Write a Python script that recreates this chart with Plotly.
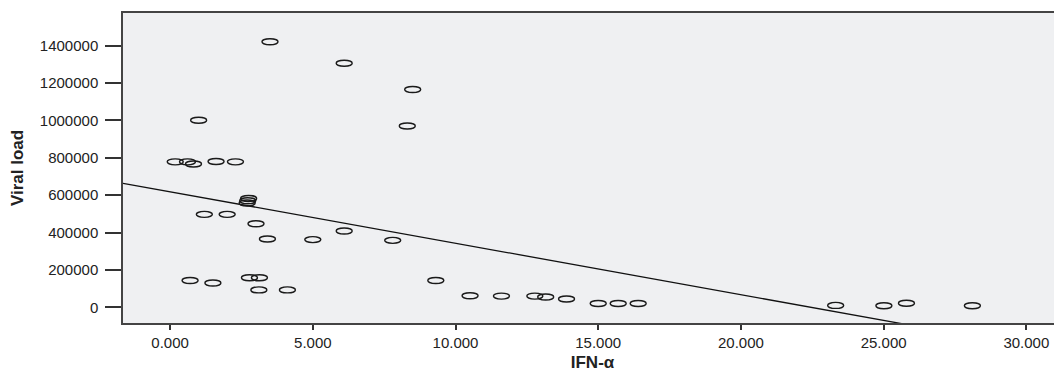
import numpy as np
import plotly.graph_objects as go

ifn_alpha = [3.50, 6.10, 8.50, 8.31, 1.00, 0.18, 0.61, 0.82, 1.61, 2.29,
             2.75, 2.72, 2.70, 1.20, 2.00, 3.01, 3.41, 5.00, 6.10, 7.80,
             0.70, 1.50, 2.78, 3.13, 3.11, 4.11, 9.31, 10.51, 11.61, 12.78,
             13.16, 13.89, 15.00, 15.70, 16.40, 23.32, 25.01, 25.80, 28.11]
viral_load = [1420000, 1305000, 1165000, 970000, 1000000, 778000, 778000, 766000, 780000, 778000,
              582000, 570000, 558000, 497000, 497000, 447000, 365000, 362000, 408000, 358000,
              143000, 130000, 158000, 158000, 93000, 93000, 143000, 62000, 60000, 60000,
              55000, 44000, 20000, 20000, 20000, 10000, 8000, 22000, 8000]

x_ticks = [0, 5, 10, 15, 20, 25, 30]
y_ticks = [0, 200000, 400000, 600000, 800000, 1000000, 1200000, 1400000]
x_range = [-1.65, 31.25]
y_range = [-84000, 1574000]

slope, intercept = np.polyfit(ifn_alpha, viral_load, 1)
fit_x = np.array(x_range)
fit_y = intercept + slope * fit_x

fig = go.Figure()
fig.add_trace(go.Scatter(x=fit_x, y=fit_y, mode="lines",
                         line=dict(color="#111111", width=1.3),
                         showlegend=False, hoverinfo="skip"))
fig.add_trace(go.Scatter(x=ifn_alpha, y=viral_load, mode="markers",
                         marker=dict(size=1, opacity=0), showlegend=False))

for xv, yv in zip(ifn_alpha, viral_load):
    fig.add_shape(type="circle", xref="x", yref="y",
                  xsizemode="pixel", ysizemode="pixel",
                  xanchor=xv, yanchor=yv, x0=-8, x1=8, y0=-3, y1=3,
                  line=dict(color="#1a1a1a", width=1.4),
                  fillcolor="rgba(0,0,0,0)", layer="above")

# page body has an 8px default margin, so the figure is sized to fill the rest
fig.update_layout(
    width=1054, height=367,
    margin=dict(l=115, r=0, t=5, b=52),
    paper_bgcolor="white", plot_bgcolor="#eff0f2",
    font=dict(family="Liberation Sans, Arial, sans-serif", size=15, color="#222222"),
)
fig.update_xaxes(range=x_range, tickvals=x_ticks, tickformat=".3f", automargin=False,
                 ticks="outside", ticklen=5, tickwidth=1.5, tickcolor="#333333",
                 showline=True, linecolor="#444444", linewidth=1.5, mirror=True,
                 showgrid=False, zeroline=False,
                 title=dict(text="<b>IFN-α</b>", font=dict(size=17, color="#222222"), standoff=6))
fig.update_yaxes(range=y_range, tickvals=y_ticks, tickformat="d", automargin=False,
                 ticks="outside", ticklen=16, tickwidth=1.5, tickcolor="#333333",
                 ticklabelstandoff=4,
                 showline=True, linecolor="#444444", linewidth=1.5, mirror=False,
                 showgrid=False, zeroline=False,
                 title=dict(text="<b>Viral load</b>", font=dict(size=17, color="#222222"), standoff=14))

fig.write_html("out.html")
